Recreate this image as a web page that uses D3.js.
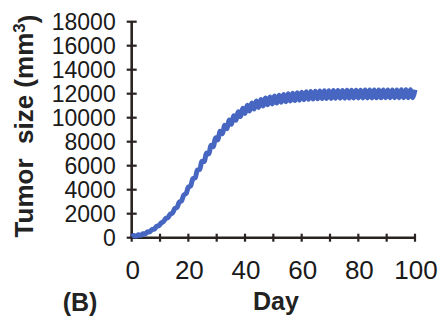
<!DOCTYPE html>
<html>
<head>
<meta charset="utf-8">
<script src="https://cdn.jsdelivr.net/npm/d3@7"></script>
<style>
  body { margin: 0; background: #ffffff; }
  svg { display: block; font-family: "Liberation Sans", Arial, Helvetica, sans-serif; }
</style>
</head>
<body>
<div id="chart"></div>
<script>
// tick values
var xTicks = [0, 20, 40, 60, 80, 100];
var xMinorTicks = [0, 10, 20, 30, 40, 50, 60, 70, 80, 90, 100];
var yTicks = [0, 2000, 4000, 6000, 8000, 10000, 12000, 14000, 16000, 18000];

// day of each sample (every 0.8 day, trough / peak alternately)
var days = d3.range(0, 100.01, 0.8);

// tumor size (mm3), troughs and peaks of the wiggle
var tumorSize = [
  90, 190, 140, 240, 200, 330, 320, 480, 490, 690,
  720, 950, 1010, 1230, 1330, 1600, 1680, 1960, 2060, 2425,
  2530, 2960, 3075, 3555, 3680, 4210, 4320, 4910, 4990, 5640,
  5690, 6360, 6350, 7045, 6985, 7700, 7590, 8320, 8150, 8875,
  8660, 9370, 9085, 9800, 9455, 10170, 9790, 10500, 10090, 10795,
  10360, 11040, 10560, 11235, 10720, 11400, 10860, 11525, 10975, 11635,
  11070, 11730, 11150, 11810, 11220, 11870, 11280, 11935, 11335, 11995,
  11385, 12040, 11425, 12080, 11460, 12120, 11500, 12155, 11530, 12180,
  11550, 12200, 11570, 12220, 11590, 12240, 11600, 12250, 11610, 12260,
  11620, 12270, 11625, 12275, 11630, 12280, 11635, 12285, 11640, 12290,
  11640, 12295, 11645, 12300, 11650, 12300, 11650, 12305, 11655, 12305,
  11655, 12310, 11660, 12310, 11660, 12315, 11665, 12315, 11665, 12320,
  11670, 12320, 11670, 12320, 11670, 12325
];

var width = 439, height = 321;
var axisColor = "#2b2222";
var lineColor = "#4666c2";

var svg = d3.select("#chart")
    .append("svg")
    .attr("width", width)
    .attr("height", height);

var x = d3.scaleLinear().domain([0, 100]).range([131.7, 415]);
var y = d3.scaleLinear().domain([0, 18000]).range([237.7, 21.7]);

// y axis: line, crossing ticks, labels
var yAxis = svg.append("g").attr("transform", "translate(" + x(0) + ",0)");
yAxis.append("line")
    .attr("y1", y(0)).attr("y2", y(18000))
    .attr("stroke", axisColor).attr("stroke-width", 2.6);
yAxis.selectAll("line.tick").data(yTicks).enter().append("line")
    .attr("class", "tick")
    .attr("x1", -5).attr("x2", 5)
    .attr("y1", function(d){ return y(d); })
    .attr("y2", function(d){ return y(d); })
    .attr("stroke", axisColor).attr("stroke-width", 2.2);
yAxis.selectAll("text").data(yTicks).enter().append("text")
    .attr("x", -16)
    .attr("y", function(d){ return y(d); })
    .attr("dy", ".36em")
    .attr("text-anchor", "end")
    .attr("fill", "#1a1a1a")
    .style("font-size", "23px")
    .text(function(d){ return d; });

// x axis
var xAxis = svg.append("g").attr("transform", "translate(0," + y(0) + ")");
xAxis.append("line")
    .attr("x1", x(0)).attr("x2", x(100))
    .attr("stroke", axisColor).attr("stroke-width", 2.6);
xAxis.selectAll("line.tick").data(xMinorTicks).enter().append("line")
    .attr("class", "tick")
    .attr("y1", -4).attr("y2", 4)
    .attr("x1", function(d){ return x(d); })
    .attr("x2", function(d){ return x(d); })
    .attr("stroke", axisColor).attr("stroke-width", 2.2);
xAxis.selectAll("text").data(xTicks).enter().append("text")
    .attr("x", function(d){ return x(d) + 1; })
    .attr("y", 41)
    .attr("text-anchor", "middle")
    .attr("fill", "#1a1a1a")
    .style("font-size", "26px")
    .text(function(d){ return d; });

// the tumor curve
var line = d3.line()
    .x(function(d, i){ return x(days[i]); })
    .y(function(d){ return y(d); })
    .curve(d3.curveCatmullRom);

svg.append("path")
    .datum(tumorSize)
    .attr("d", line)
    .attr("fill", "none")
    .attr("stroke", lineColor)
    .attr("stroke-width", 5)
    .attr("stroke-linejoin", "round");

// titles
svg.append("text")
    .attr("x", 276).attr("y", 310)
    .attr("text-anchor", "middle")
    .attr("fill", "#222")
    .style("font-size", "25px").style("font-weight", "bold")
    .text("Day");

svg.append("text")
    .attr("x", 80).attr("y", 311)
    .attr("text-anchor", "middle")
    .attr("fill", "#222")
    .style("font-size", "25px").style("font-weight", "bold")
    .text("(B)");

var yTitle = svg.append("text")
    .attr("transform", "translate(33,126) rotate(-90)")
    .attr("text-anchor", "middle")
    .attr("fill", "#222")
    .style("font-size", "26px").style("font-weight", "bold");
yTitle.append("tspan").text("Tumor\u00a0 size (mm");
yTitle.append("tspan").attr("dy", "-0.45em").style("font-size", "17px").text("3");
yTitle.append("tspan").attr("dy", "0.45em").text(")");
</script>
</body>
</html>
